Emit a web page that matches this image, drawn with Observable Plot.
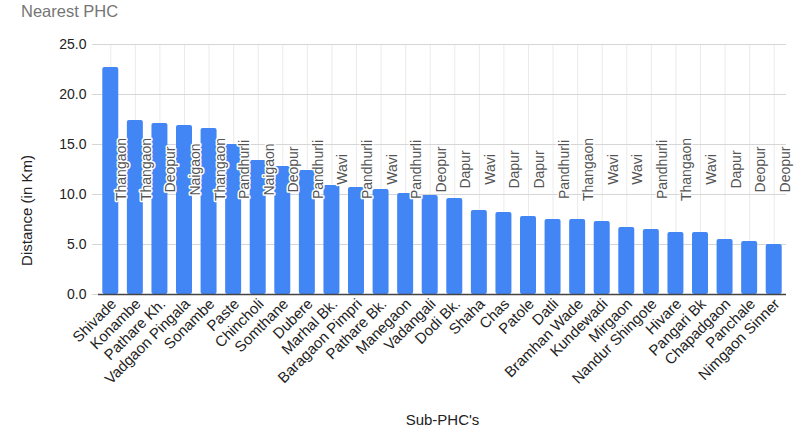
<!DOCTYPE html>
<html>
<head>
<meta charset="utf-8">
<script src="https://cdn.jsdelivr.net/npm/d3@7"></script>
<script src="https://cdn.jsdelivr.net/npm/@observablehq/plot@0.6"></script>
<style>
  html, body { margin: 0; padding: 0; background: #fff; }
  #title {
    height: 24px;
    box-sizing: border-box;
    padding: 1px 0 0 21px;
    font: 16.5px "Liberation Sans", Arial, sans-serif;
    line-height: 20px;
    color: #757575;
  }
</style>
</head>
<body>
<div id="title">Nearest PHC</div>
<div id="chart"></div>
<script>
// Sub-PHC villages, their distance to the nearest PHC, and that PHC's name
const subPHCs = [
  "Shivade", "Konambe", "Pathare Kh.", "Vadgaon Pingala", "Sonambe", "Paste",
  "Chincholi", "Somthane", "Dubere", "Marhal Bk.", "Baragaon Pimpri", "Pathare Bk.",
  "Manegaon", "Vadangali", "Dodi Bk.", "Shaha", "Chas", "Patole", "Datli",
  "Bramhan Wade", "Kundewadi", "Mirgaon", "Nandur Shingote", "Hivare", "Pangari Bk",
  "Chapadgaon", "Panchale", "Nimgaon Sinner"
];
const distanceKm = [
  22.7, 17.4, 17.1, 16.9, 16.6, 15.0,
  13.4, 12.8, 12.4, 10.9, 10.7, 10.5,
  10.1, 9.9, 9.6, 8.4, 8.2, 7.8, 7.5,
  7.5, 7.3, 6.7, 6.5, 6.2, 6.2,
  5.5, 5.3, 5.0
];
const nearestPHC = [
  "Thangaon", "Thangaon", "Deopur", "Naigaon", "Thangaon", "Pandhurli",
  "Naigaon", "Deopur", "Pandhurli", "Wavi", "Pandhurli", "Wavi",
  "Pandhurli", "Deopur", "Dapur", "Wavi", "Dapur", "Dapur", "Pandhurli",
  "Thangaon", "Wavi", "Wavi", "Pandhurli", "Thangaon", "Wavi",
  "Dapur", "Deopur", "Deopur"
];
const yTicks = [0, 5, 10, 15, 20, 25];
const xTitle = "Sub-PHC's";
const yTitle = "Distance (in Km)";

const rows = subPHCs.map((name, i) => ({name, km: distanceKm[i], phc: nearestPHC[i]}));

const font = "'Liberation Sans', Arial, sans-serif";

const chart = Plot.plot({
  width: 802,
  height: 404,
  marginTop: 20,
  marginRight: 16,
  marginBottom: 134,
  marginLeft: 98,
  style: {fontFamily: font, fontSize: "14px", color: "#222", background: "#fff", overflow: "visible"},
  x: {domain: subPHCs, paddingInner: 0.35, paddingOuter: 0.175, round: false, label: null},
  y: {domain: [0, 25], label: null},
  marks: [
    // vertical guides at each category
    Plot.ruleX(subPHCs, {stroke: "#ebebeb", strokeWidth: 1}),
    // horizontal grid
    Plot.ruleY(yTicks, {stroke: "#d6d6d6", strokeWidth: 1}),
    Plot.barY(rows, {x: "name", y: "km", fill: "#4285f4", rx: 2}),
    Plot.ruleY([0], {stroke: "#444", strokeWidth: 1.5}),
    Plot.axisY(yTicks, {
      tickFormat: d3.format(".1f"), tickSize: 6, tickPadding: 6,
      stroke: "#d6d6d6", fill: "#222", fontSize: 14, label: null
    }),
    Plot.axisX({
      tickRotate: -45, tickSize: 0, tickPadding: 7, dx: 3,
      fill: "#222", fontSize: 15, label: null
    }),
    // nearest PHC names beside each bar
    Plot.text(rows, {
      x: "name", text: "phc", frameAnchor: "middle", rotate: -90, dx: 11,
      fill: "#555", stroke: "#fff", strokeWidth: 3, fontSize: 14
    }),
    Plot.text([yTitle], {
      frameAnchor: "left", textAnchor: "middle", rotate: -90, dx: -71, dy: 41,
      fill: "#222", fontSize: 15
    }),
    Plot.text([xTitle], {
      frameAnchor: "bottom", dy: 130, fill: "#222", fontSize: 15
    })
  ]
});

document.getElementById("chart").appendChild(chart);
</script>
</body>
</html>
